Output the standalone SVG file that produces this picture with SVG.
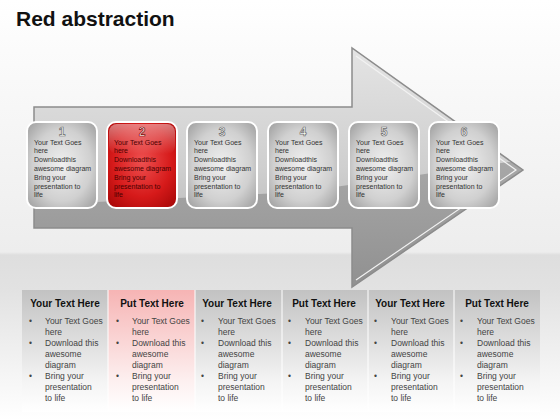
<svg xmlns="http://www.w3.org/2000/svg" width="560" height="420" viewBox="0 0 560 420">
<defs>
<linearGradient id="bg" x1="0" y1="0" x2="0" y2="1">
<stop offset="0" stop-color="#ffffff"/>
<stop offset="0.12" stop-color="#fbfbfb"/>
<stop offset="0.6" stop-color="#ededed"/>
<stop offset="0.607" stop-color="#dedede"/>
<stop offset="0.69" stop-color="#e2e2e2"/>
<stop offset="1" stop-color="#ffffff"/>
</linearGradient>
<linearGradient id="arrowG" x1="0" y1="0" x2="0" y2="1">
<stop offset="0" stop-color="#e4e4e4"/>
<stop offset="0.5" stop-color="#cfcfcf"/>
<stop offset="1" stop-color="#a9a9a9"/>
</linearGradient>
<linearGradient id="darkG" x1="0" y1="0" x2="0" y2="1">
<stop offset="0" stop-color="#a8a8a8"/>
<stop offset="1" stop-color="#8e8e8e"/>
</linearGradient>
<radialGradient id="boxG" cx="0.5" cy="0.5" r="0.7">
<stop offset="0" stop-color="#f0f0f0"/>
<stop offset="0.6" stop-color="#d0d0d0"/>
<stop offset="1" stop-color="#9c9c9c"/>
</radialGradient>
<radialGradient id="redG" cx="0.5" cy="0.45" r="0.7">
<stop offset="0" stop-color="#ee5050"/>
<stop offset="0.6" stop-color="#d61a1a"/>
<stop offset="1" stop-color="#a80808"/>
</radialGradient>
<linearGradient id="colG" x1="0" y1="0" x2="0" y2="1">
<stop offset="0" stop-color="#c2c2c2"/>
<stop offset="0.75" stop-color="#f4f4f4"/>
<stop offset="1" stop-color="#ffffff"/>
</linearGradient>
<linearGradient id="pinkG" x1="0" y1="0" x2="0" y2="1">
<stop offset="0" stop-color="#f6b4b4"/>
<stop offset="0.75" stop-color="#fdf0f0"/>
<stop offset="1" stop-color="#ffffff"/>
</linearGradient>
<linearGradient id="gloss" x1="0" y1="0" x2="0" y2="1">
<stop offset="0" stop-color="#ffffff" stop-opacity="0.45"/>
<stop offset="1" stop-color="#ffffff" stop-opacity="0"/>
</linearGradient>
<clipPath id="arrowClip">
<polygon points="34,107 352,107 352,48 523,170 352,287 352,228 34,228"/>
</clipPath>
</defs>
<style>
.title{font-family:"Liberation Sans",Arial,sans-serif;font-weight:bold;font-size:21px;fill:#111}
.box{stroke:#ffffff;stroke-width:2}
.num{font-family:"Liberation Sans",Arial,sans-serif;font-weight:bold;font-size:12px;fill:#ffffff;stroke:#6e6e6e;stroke-width:0.7;text-anchor:middle}
.bt{font-family:"Liberation Sans",Arial,sans-serif;font-size:7px;fill:#333}
.rt{font-family:"Liberation Sans",Arial,sans-serif;font-size:7px;fill:#4a0000}
.hd{font-family:"Liberation Sans",Arial,sans-serif;font-weight:bold;font-size:10px;fill:#111;text-anchor:middle}
.li{font-family:"Liberation Sans",Arial,sans-serif;font-size:8.5px;fill:#444}
.sep{stroke:#ffffff;stroke-width:1}
</style>
<rect x="0" y="0" width="560" height="420" fill="url(#bg)"/>
<text class="title" x="16" y="26">Red abstraction</text>

<g id="arrow">
<polygon points="34,107 352,107 352,48 523,170 352,287 352,228 34,228" fill="url(#arrowG)"/>
<g clip-path="url(#arrowClip)">
<polygon points="34,205 300,192 523,160 523,300 34,300" fill="url(#darkG)"/>
</g>
<polygon points="34,107 352,107 352,48 523,170 352,287 352,228 34,228" fill="none" stroke="#8c8c8c" stroke-width="1.5"/>
<polyline points="356,56 516,170 356,280" fill="none" stroke="#f2f2f2" stroke-width="1.2"/>
</g>

<g id="node1">
<rect class="box" x="27" y="122" width="70" height="86" rx="9" fill="url(#boxG)"/>
<text class="num" x="62" y="135.5">1</text>
<text class="bt"><tspan x="34" y="144.5">Your Text Goes</tspan><tspan x="34" y="153.3">here</tspan><tspan x="34" y="162.1">Downloadthis</tspan><tspan x="34" y="170.9">awesome diagram</tspan><tspan x="34" y="179.7">Bring your</tspan><tspan x="34" y="188.5">presentation to</tspan><tspan x="34" y="197.3">life</tspan></text>
</g>
<g id="node2">
<rect class="box" x="107" y="122" width="70" height="86" rx="9" fill="url(#redG)"/>
<rect x="109" y="124" width="66" height="30" rx="8" fill="url(#gloss)"/>
<text class="num" x="142" y="135.5" style="stroke:#7a0000">2</text>
<text class="rt"><tspan x="114" y="144.5">Your Text Goes</tspan><tspan x="114" y="153.3">here</tspan><tspan x="114" y="162.1">Downloadthis</tspan><tspan x="114" y="170.9">awesome diagram</tspan><tspan x="114" y="179.7">Bring your</tspan><tspan x="114" y="188.5">presentation to</tspan><tspan x="114" y="197.3">life</tspan></text>
</g>
<g id="node3">
<rect class="box" x="187" y="122" width="70" height="86" rx="9" fill="url(#boxG)"/>
<text class="num" x="222" y="135.5">3</text>
<text class="bt"><tspan x="194" y="144.5">Your Text Goes</tspan><tspan x="194" y="153.3">here</tspan><tspan x="194" y="162.1">Downloadthis</tspan><tspan x="194" y="170.9">awesome diagram</tspan><tspan x="194" y="179.7">Bring your</tspan><tspan x="194" y="188.5">presentation to</tspan><tspan x="194" y="197.3">life</tspan></text>
</g>
<g id="node4">
<rect class="box" x="268" y="122" width="70" height="86" rx="9" fill="url(#boxG)"/>
<text class="num" x="303" y="135.5">4</text>
<text class="bt"><tspan x="275" y="144.5">Your Text Goes</tspan><tspan x="275" y="153.3">here</tspan><tspan x="275" y="162.1">Downloadthis</tspan><tspan x="275" y="170.9">awesome diagram</tspan><tspan x="275" y="179.7">Bring your</tspan><tspan x="275" y="188.5">presentation to</tspan><tspan x="275" y="197.3">life</tspan></text>
</g>
<g id="node5">
<rect class="box" x="349" y="122" width="70" height="86" rx="9" fill="url(#boxG)"/>
<text class="num" x="384" y="135.5">5</text>
<text class="bt"><tspan x="356" y="144.5">Your Text Goes</tspan><tspan x="356" y="153.3">here</tspan><tspan x="356" y="162.1">Downloadthis</tspan><tspan x="356" y="170.9">awesome diagram</tspan><tspan x="356" y="179.7">Bring your</tspan><tspan x="356" y="188.5">presentation to</tspan><tspan x="356" y="197.3">life</tspan></text>
</g>
<g id="node6">
<rect class="box" x="429" y="122" width="70" height="86" rx="9" fill="url(#boxG)"/>
<text class="num" x="464" y="135.5">6</text>
<text class="bt"><tspan x="436" y="144.5">Your Text Goes</tspan><tspan x="436" y="153.3">here</tspan><tspan x="436" y="162.1">Downloadthis</tspan><tspan x="436" y="170.9">awesome diagram</tspan><tspan x="436" y="179.7">Bring your</tspan><tspan x="436" y="188.5">presentation to</tspan><tspan x="436" y="197.3">life</tspan></text>
</g>

<g id="table">
<rect x="22" y="290" width="86" height="122" fill="url(#colG)"/>
<rect x="108" y="290" width="87" height="122" fill="url(#pinkG)"/>
<rect x="195" y="290" width="87" height="122" fill="url(#colG)"/>
<rect x="282" y="290" width="86" height="122" fill="url(#colG)"/>
<rect x="368" y="290" width="86" height="122" fill="url(#colG)"/>
<rect x="454" y="290" width="86" height="122" fill="url(#colG)"/>
<line class="sep" x1="108" y1="290" x2="108" y2="412"/>
<line class="sep" x1="195" y1="290" x2="195" y2="412"/>
<line class="sep" x1="282" y1="290" x2="282" y2="412"/>
<line class="sep" x1="368" y1="290" x2="368" y2="412"/>
<line class="sep" x1="454" y1="290" x2="454" y2="412"/>
</g>

<g id="col1">
<text class="hd" x="65" y="307">Your Text Here</text>
<text class="li"><tspan x="29" y="324">•</tspan><tspan x="29" y="346">•</tspan><tspan x="29" y="379">•</tspan></text>
<text class="li"><tspan x="45" y="324">Your Text Goes</tspan><tspan x="45" y="335">here</tspan><tspan x="45" y="346">Download this</tspan><tspan x="45" y="357">awesome</tspan><tspan x="45" y="368">diagram</tspan><tspan x="45" y="379">Bring your</tspan><tspan x="45" y="390">presentation</tspan><tspan x="45" y="401">to life</tspan></text>
</g>
<g id="col2">
<text class="hd" x="152" y="307">Put Text Here</text>
<text class="li"><tspan x="116" y="324">•</tspan><tspan x="116" y="346">•</tspan><tspan x="116" y="379">•</tspan></text>
<text class="li"><tspan x="132" y="324">Your Text Goes</tspan><tspan x="132" y="335">here</tspan><tspan x="132" y="346">Download this</tspan><tspan x="132" y="357">awesome</tspan><tspan x="132" y="368">diagram</tspan><tspan x="132" y="379">Bring your</tspan><tspan x="132" y="390">presentation</tspan><tspan x="132" y="401">to life</tspan></text>
</g>
<g id="col3">
<text class="hd" x="237" y="307">Your Text Here</text>
<text class="li"><tspan x="201" y="324">•</tspan><tspan x="201" y="346">•</tspan><tspan x="201" y="379">•</tspan></text>
<text class="li"><tspan x="218" y="324">Your Text Goes</tspan><tspan x="218" y="335">here</tspan><tspan x="218" y="346">Download this</tspan><tspan x="218" y="357">awesome</tspan><tspan x="218" y="368">diagram</tspan><tspan x="218" y="379">Bring your</tspan><tspan x="218" y="390">presentation</tspan><tspan x="218" y="401">to life</tspan></text>
</g>
<g id="col4">
<text class="hd" x="324" y="307">Put Text Here</text>
<text class="li"><tspan x="288" y="324">•</tspan><tspan x="288" y="346">•</tspan><tspan x="288" y="379">•</tspan></text>
<text class="li"><tspan x="305" y="324">Your Text Goes</tspan><tspan x="305" y="335">here</tspan><tspan x="305" y="346">Download this</tspan><tspan x="305" y="357">awesome</tspan><tspan x="305" y="368">diagram</tspan><tspan x="305" y="379">Bring your</tspan><tspan x="305" y="390">presentation</tspan><tspan x="305" y="401">to life</tspan></text>
</g>
<g id="col5">
<text class="hd" x="410" y="307">Your Text Here</text>
<text class="li"><tspan x="374" y="324">•</tspan><tspan x="374" y="346">•</tspan><tspan x="374" y="379">•</tspan></text>
<text class="li"><tspan x="391" y="324">Your Text Goes</tspan><tspan x="391" y="335">here</tspan><tspan x="391" y="346">Download this</tspan><tspan x="391" y="357">awesome</tspan><tspan x="391" y="368">diagram</tspan><tspan x="391" y="379">Bring your</tspan><tspan x="391" y="390">presentation</tspan><tspan x="391" y="401">to life</tspan></text>
</g>
<g id="col6">
<text class="hd" x="497" y="307">Put Text Here</text>
<text class="li"><tspan x="460" y="324">•</tspan><tspan x="460" y="346">•</tspan><tspan x="460" y="379">•</tspan></text>
<text class="li"><tspan x="477" y="324">Your Text Goes</tspan><tspan x="477" y="335">here</tspan><tspan x="477" y="346">Download this</tspan><tspan x="477" y="357">awesome</tspan><tspan x="477" y="368">diagram</tspan><tspan x="477" y="379">Bring your</tspan><tspan x="477" y="390">presentation</tspan><tspan x="477" y="401">to life</tspan></text>
</g>
</svg>
